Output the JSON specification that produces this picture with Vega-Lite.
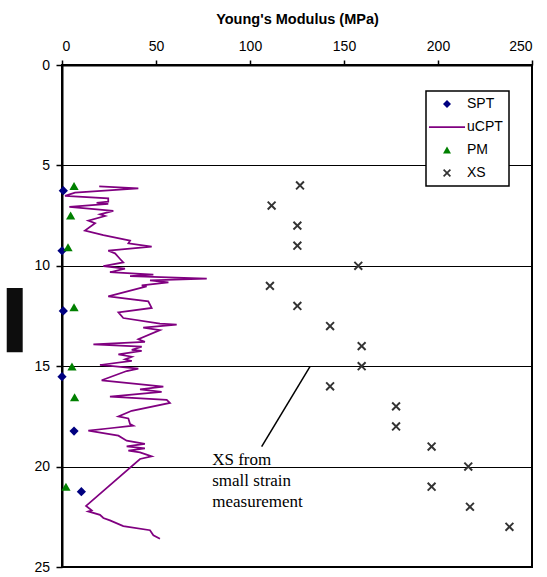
{
  "$schema": "https://vega.github.io/schema/vega-lite/v6.json",
  "width": 470,
  "height": 502,
  "autosize": {"type": "none"},
  "padding": {"left": 62, "top": 65, "right": 15, "bottom": 10},
  "background": "white",
  "config": {
    "view": {"stroke": "black", "strokeWidth": 2},
    "font": "Liberation Sans",
    "axis": {"labelFont": "Liberation Sans", "labelFontSize": 14, "labelColor": "black", "tickColor": "black", "tickWidth": 1.5, "domainColor": "black", "domainWidth": 2, "titleColor": "black"}
  },
  "datasets": {
    "pts": [
      {"series": "SPT", "E": 0.7, "depth": 6.26},
      {"series": "SPT", "E": 0, "depth": 9.25},
      {"series": "SPT", "E": 0.7, "depth": 12.25},
      {"series": "SPT", "E": 0, "depth": 15.52},
      {"series": "SPT", "E": 6.4, "depth": 18.23},
      {"series": "SPT", "E": 10.3, "depth": 21.25},
      {"series": "PM", "E": 6.4, "depth": 6.03},
      {"series": "PM", "E": 4.6, "depth": 7.5},
      {"series": "PM", "E": 3.2, "depth": 9.08},
      {"series": "PM", "E": 6.4, "depth": 12.07},
      {"series": "PM", "E": 5.3, "depth": 15.02},
      {"series": "PM", "E": 6.7, "depth": 16.55},
      {"series": "PM", "E": 2.1, "depth": 21.0},
      {"series": "XS", "E": 126.6, "depth": 6},
      {"series": "XS", "E": 111.5, "depth": 7},
      {"series": "XS", "E": 125.2, "depth": 8},
      {"series": "XS", "E": 125.2, "depth": 9},
      {"series": "XS", "E": 157.6, "depth": 10},
      {"series": "XS", "E": 110.6, "depth": 11},
      {"series": "XS", "E": 125.2, "depth": 12},
      {"series": "XS", "E": 142.6, "depth": 13},
      {"series": "XS", "E": 159.4, "depth": 14},
      {"series": "XS", "E": 159.4, "depth": 15},
      {"series": "XS", "E": 142.6, "depth": 16},
      {"series": "XS", "E": 177.7, "depth": 17},
      {"series": "XS", "E": 177.7, "depth": 18},
      {"series": "XS", "E": 196.6, "depth": 19},
      {"series": "XS", "E": 216.1, "depth": 20},
      {"series": "XS", "E": 196.6, "depth": 21},
      {"series": "XS", "E": 217, "depth": 22},
      {"series": "XS", "E": 238, "depth": 23}
    ],
    "cpt": [
      {"series": "uCPT", "E": 19.8, "depth": 6.04},
      {"series": "uCPT", "E": 40.6, "depth": 6.14},
      {"series": "uCPT", "E": 6.9, "depth": 6.36},
      {"series": "uCPT", "E": 1.6, "depth": 6.52},
      {"series": "uCPT", "E": 24.6, "depth": 6.64},
      {"series": "uCPT", "E": 24.6, "depth": 6.81},
      {"series": "uCPT", "E": 18.4, "depth": 6.86},
      {"series": "uCPT", "E": 24.6, "depth": 6.92},
      {"series": "uCPT", "E": 3.9, "depth": 7.06},
      {"series": "uCPT", "E": 27.3, "depth": 7.26},
      {"series": "uCPT", "E": 20.2, "depth": 7.44},
      {"series": "uCPT", "E": 22.9, "depth": 7.52},
      {"series": "uCPT", "E": 14.0, "depth": 7.75},
      {"series": "uCPT", "E": 17.6, "depth": 7.88},
      {"series": "uCPT", "E": 12.2, "depth": 8.25},
      {"series": "uCPT", "E": 22.0, "depth": 8.47},
      {"series": "uCPT", "E": 36.2, "depth": 8.75},
      {"series": "uCPT", "E": 35.3, "depth": 8.88},
      {"series": "uCPT", "E": 47.7, "depth": 9.05},
      {"series": "uCPT", "E": 24.6, "depth": 9.25},
      {"series": "uCPT", "E": 28.2, "depth": 9.38},
      {"series": "uCPT", "E": 30.9, "depth": 9.66},
      {"series": "uCPT", "E": 32.6, "depth": 9.83},
      {"series": "uCPT", "E": 22.0, "depth": 10.02},
      {"series": "uCPT", "E": 33.5, "depth": 10.14},
      {"series": "uCPT", "E": 25.5, "depth": 10.32},
      {"series": "uCPT", "E": 48.6, "depth": 10.44},
      {"series": "uCPT", "E": 36.2, "depth": 10.52},
      {"series": "uCPT", "E": 77.0, "depth": 10.64},
      {"series": "uCPT", "E": 46.8, "depth": 10.72},
      {"series": "uCPT", "E": 56.6, "depth": 10.82},
      {"series": "uCPT", "E": 42.4, "depth": 10.97},
      {"series": "uCPT", "E": 45.0, "depth": 11.02},
      {"series": "uCPT", "E": 24.6, "depth": 11.52},
      {"series": "uCPT", "E": 45.9, "depth": 11.77},
      {"series": "uCPT", "E": 47.7, "depth": 12.1},
      {"series": "uCPT", "E": 30.0, "depth": 12.32},
      {"series": "uCPT", "E": 32.6, "depth": 12.6},
      {"series": "uCPT", "E": 52.1, "depth": 12.88},
      {"series": "uCPT", "E": 61.0, "depth": 12.93},
      {"series": "uCPT", "E": 43.2, "depth": 13.08},
      {"series": "uCPT", "E": 52.1, "depth": 13.2},
      {"series": "uCPT", "E": 40.6, "depth": 13.66},
      {"series": "uCPT", "E": 44.1, "depth": 13.79},
      {"series": "uCPT", "E": 16.7, "depth": 13.91},
      {"series": "uCPT", "E": 42.4, "depth": 14.03},
      {"series": "uCPT", "E": 37.1, "depth": 14.19},
      {"series": "uCPT", "E": 42.4, "depth": 14.24},
      {"series": "uCPT", "E": 30.0, "depth": 14.41},
      {"series": "uCPT", "E": 37.1, "depth": 14.53},
      {"series": "uCPT", "E": 33.5, "depth": 14.66},
      {"series": "uCPT", "E": 37.1, "depth": 14.74},
      {"series": "uCPT", "E": 20.2, "depth": 14.94},
      {"series": "uCPT", "E": 40.6, "depth": 15.12},
      {"series": "uCPT", "E": 34.4, "depth": 15.24},
      {"series": "uCPT", "E": 21.1, "depth": 15.7},
      {"series": "uCPT", "E": 53.9, "depth": 16.02},
      {"series": "uCPT", "E": 41.5, "depth": 16.15},
      {"series": "uCPT", "E": 53.0, "depth": 16.28},
      {"series": "uCPT", "E": 25.5, "depth": 16.52},
      {"series": "uCPT", "E": 55.7, "depth": 16.68},
      {"series": "uCPT", "E": 57.4, "depth": 16.83},
      {"series": "uCPT", "E": 37.1, "depth": 17.22},
      {"series": "uCPT", "E": 30.0, "depth": 17.5},
      {"series": "uCPT", "E": 35.3, "depth": 17.6},
      {"series": "uCPT", "E": 36.2, "depth": 17.88},
      {"series": "uCPT", "E": 37.9, "depth": 17.96},
      {"series": "uCPT", "E": 25.5, "depth": 18.09},
      {"series": "uCPT", "E": 14.0, "depth": 18.21},
      {"series": "uCPT", "E": 30.0, "depth": 18.46},
      {"series": "uCPT", "E": 34.4, "depth": 18.71},
      {"series": "uCPT", "E": 44.1, "depth": 18.87},
      {"series": "uCPT", "E": 34.4, "depth": 18.99},
      {"series": "uCPT", "E": 44.1, "depth": 19.09},
      {"series": "uCPT", "E": 35.3, "depth": 19.21},
      {"series": "uCPT", "E": 41.5, "depth": 19.29},
      {"series": "uCPT", "E": 47.7, "depth": 19.49},
      {"series": "uCPT", "E": 41.5, "depth": 19.62},
      {"series": "uCPT", "E": 12.8, "depth": 21.96},
      {"series": "uCPT", "E": 15.8, "depth": 22.18},
      {"series": "uCPT", "E": 14.0, "depth": 22.23},
      {"series": "uCPT", "E": 20.2, "depth": 22.4},
      {"series": "uCPT", "E": 22.0, "depth": 22.56},
      {"series": "uCPT", "E": 25.5, "depth": 22.68},
      {"series": "uCPT", "E": 32.6, "depth": 22.96},
      {"series": "uCPT", "E": 46.8, "depth": 23.17},
      {"series": "uCPT", "E": 48.6, "depth": 23.42},
      {"series": "uCPT", "E": 52.1, "depth": 23.59}
    ],
    "note": [{"E": 79.9, "depth": 19.92, "label": "XS from\nsmall strain\nmeasurement"}],
    "leader": [{"E": 131.9, "depth": 15.02, "E2": 106.2, "depth2": 19.0}],
    "block": [{"E": -29.4, "E2": -20.9, "depth": 11.1, "depth2": 14.3}]
  },
  "layer": [
    {
      "data": {"name": "block"},
      "mark": {"type": "rect", "fill": "#0d0d0d"},
      "encoding": {
        "x": {"field": "E", "type": "quantitative"},
        "x2": {"field": "E2"},
        "y": {"field": "depth", "type": "quantitative"},
        "y2": {"field": "depth2"}
      }
    },
    {
      "data": {"name": "cpt"},
      "mark": {"type": "line", "strokeWidth": 1.75},
      "encoding": {
        "x": {"field": "E", "type": "quantitative", "scale": {"domain": [0, 250], "nice": false},
          "axis": {"orient": "top", "values": [0, 50, 100, 150, 200, 250], "grid": false, "title": "Young's Modulus (MPa)", "titleFont": "Liberation Sans", "titleFontSize": 14.5, "titleFontWeight": "bold", "titleBaseline": "alphabetic", "titleY": -41.5, "tickSize": 5, "labelPadding": 7}},
        "y": {"field": "depth", "type": "quantitative", "scale": {"domain": [0, 25], "nice": false, "reverse": true},
          "axis": {"orient": "left", "values": [0, 5, 10, 15, 20, 25], "grid": true, "gridColor": "black", "gridWidth": 1, "gridOpacity": 1, "title": null, "tickSize": 6, "labelPadding": 6.5}},
        "order": {"field": "depth", "type": "quantitative"},
        "color": {"field": "series", "type": "nominal",
          "scale": {"domain": ["SPT", "uCPT", "PM", "XS"], "range": ["#000080", "#800080", "#008000", "#333333"]},
          "legend": {"title": null, "orient": "none", "legendX": 364, "legendY": 26, "padding": 6, "symbolOffset": 8, "labelOffset": 13, "rowPadding": 9, "symbolSize": 100, "labelFont": "Liberation Sans", "labelFontSize": 14, "labelColor": "black", "fillColor": "white", "strokeColor": "black",
            "encode": {
              "legend": {"update": {"strokeWidth": {"value": 1.5}}},
              "symbols": {"update": {
                "fill": {"signal": "datum.value === 'uCPT' ? 'transparent' : scale('color', datum.value)"},
                "stroke": {"signal": "scale('color', datum.value)"},
                "strokeWidth": {"signal": "datum.value === 'uCPT' ? 1.75 : 0"},
                "size": {"signal": "datum.value === 'uCPT' ? 1300 : 64"},
                "opacity": {"value": 1}
              }}
            }}}
      }
    },
    {
      "data": {"name": "pts"},
      "mark": {"type": "point", "filled": true, "opacity": 1, "size": 85, "strokeWidth": 0},
      "encoding": {
        "x": {"field": "E", "type": "quantitative"},
        "y": {"field": "depth", "type": "quantitative"},
        "color": {"field": "series", "type": "nominal"},
        "shape": {"field": "series", "type": "nominal",
          "scale": {"domain": ["SPT", "uCPT", "PM", "XS"], "range": ["diamond", "stroke", "triangle-up", "M-1,-0.7L-0.7,-1L0,-0.3L0.7,-1L1,-0.7L0.3,0L1,0.7L0.7,1L0,0.3L-0.7,1L-1,0.7L-0.3,0Z"]}}
      }
    },
    {
      "data": {"name": "leader"},
      "mark": {"type": "rule", "color": "black", "strokeWidth": 1.5},
      "encoding": {
        "x": {"field": "E", "type": "quantitative"},
        "x2": {"field": "E2"},
        "y": {"field": "depth", "type": "quantitative"},
        "y2": {"field": "depth2"}
      }
    },
    {
      "data": {"name": "note"},
      "mark": {"type": "text", "font": "Liberation Serif", "fontSize": 17, "align": "left", "baseline": "alphabetic", "lineBreak": "\n", "lineHeight": 21, "color": "black"},
      "encoding": {
        "x": {"field": "E", "type": "quantitative"},
        "y": {"field": "depth", "type": "quantitative"},
        "text": {"field": "label"}
      }
    }
  ]
}
